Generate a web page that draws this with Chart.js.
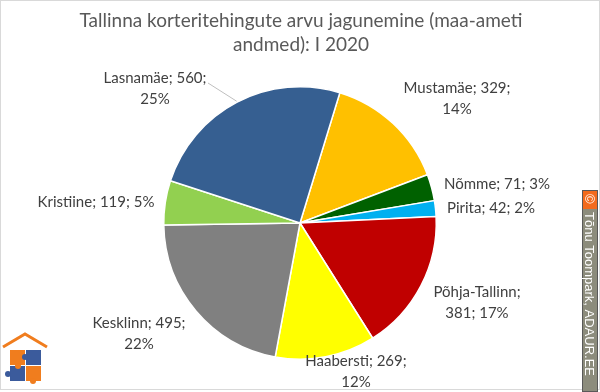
<!DOCTYPE html>
<html lang="et">
<head>
<meta charset="UTF-8">
<title>Tallinna korteritehingud I 2020</title>
<script src="https://cdn.jsdelivr.net/npm/chart.js"></script>
<style>
  html, body { margin: 0; padding: 0; background: #fff; }
  #wrap { position: relative; width: 600px; height: 392px; }
  canvas { display: block; }
</style>
</head>
<body>
<div id="wrap"><canvas id="pie" width="600" height="392"></canvas></div>
<script>
// andmed
const districts = ['Mustamäe', 'Nõmme', 'Pirita', 'Põhja-Tallinn', 'Haabersti', 'Kesklinn', 'Kristiine', 'Lasnamäe'];
const deals = [329, 71, 42, 381, 269, 495, 119, 560];
const shares = ['14%', '3%', '2%', '17%', '12%', '22%', '5%', '25%'];
const sliceColors = ['#FFC000', '#006100', '#00B0F0', '#C00000', '#FFFF00', '#808080', '#92D050', '#365F91'];

// sildi read ja asukohad (keskpunkt), nagu Excelis
const labelLines = [
  ['Mustamäe; 329;', '14%'],
  ['Nõmme; 71; 3%'],
  ['Pirita; 42; 2%'],
  ['Põhja-Tallinn;', '381; 17%'],
  ['Haabersti; 269;', '12%'],
  ['Kesklinn; 495;', '22%'],
  ['Kristiine; 119; 5%'],
  ['Lasnamäe; 560;', '25%']
];
const labelAt = [[457, 88], [497, 184], [491, 208], [477, 292], [356, 361], [139, 323], [96, 202], [155, 78]];

const labelFont = '15px Lato, "Open Sans", sans-serif';

const pieLabels = {
  id: 'pieLabels',
  afterDraw(chart) {
    const c = chart.ctx;
    const arcs = chart.getDatasetMeta(0).data;
    c.save();
    // juhtjoon Lasnamäe sildini
    const a = arcs[7];
    const mid = (a.startAngle + a.endAngle) / 2;
    c.strokeStyle = '#bfbfbf';
    c.lineWidth = 1;
    c.beginPath();
    c.moveTo(208, 83);
    c.lineTo(a.x + Math.cos(mid) * (a.outerRadius + 1), a.y + Math.sin(mid) * (a.outerRadius + 1));
    c.stroke();

    c.font = labelFont;
    c.fillStyle = '#404040';
    c.textAlign = 'center';
    c.textBaseline = 'middle';
    labelLines.forEach((lines, i) => {
      const [x, y] = labelAt[i];
      lines.forEach((t, j) => c.fillText(t, x, y + j * 21));
    });

    // pealkiri
    c.font = '19px Lato, "Open Sans", sans-serif';
    c.fillStyle = '#595959';
    c.fillText('Tallinna korteritehingute arvu jagunemine (maa-ameti', 301, 21);
    c.fillText('andmed): I 2020', 301, 45);

    // raam
    c.strokeStyle = '#d9d9d9';
    c.strokeRect(0.5, 0.5, 599, 389);

    // autori märk paremal
    c.fillStyle = '#8c8c7c';
    c.fillRect(582, 190, 16, 202);
    c.strokeStyle = '#595959';
    c.strokeRect(582.5, 190.5, 15, 201);
    c.fillStyle = '#f26b1d';
    c.fillRect(583, 191, 14, 18);
    c.translate(590, 200);
    c.rotate(Math.PI / 2);
    c.fillStyle = '#ffffff';
    c.font = '13px "Liberation Sans", Arial, sans-serif';
    c.textAlign = 'left';
    c.fillText('©', -6, 1);
    c.fillText('Tõnu Toompark, ADAUR.EE', 12, 1);
    c.restore();

    // logo all vasakul
    c.save();
    c.strokeStyle = '#f07d1e';
    c.lineWidth = 3;
    c.beginPath();
    c.moveTo(3, 347); c.lineTo(25, 334); c.lineTo(47, 347);
    c.stroke();
    const sq = [[10, 350, '#f07d1e'], [26, 350, '#3b5b9c'], [10, 366, '#3b5b9c'], [26, 366, '#f07d1e']];
    sq.forEach(([x, y, col]) => { c.fillStyle = col; c.fillRect(x, y, 15, 15); });
    c.fillStyle = '#3b5b9c';
    c.beginPath(); c.arc(25, 357, 3, 0, Math.PI * 2); c.fill();
    c.fillStyle = '#f07d1e';
    c.beginPath(); c.arc(18, 366, 3, 0, Math.PI * 2); c.fill();
    c.beginPath(); c.arc(33, 381, 3, 0, Math.PI * 2); c.fill();
    c.fillStyle = '#3b5b9c';
    c.beginPath(); c.arc(8, 374, 3, 0, Math.PI * 2); c.fill();
    c.restore();
  }
};

new Chart(document.getElementById('pie'), {
  type: 'pie',
  data: {
    labels: districts,
    datasets: [{
      data: deals,
      backgroundColor: sliceColors,
      borderColor: '#ffffff',
      borderWidth: 1.5
    }]
  },
  options: {
    responsive: false,
    animation: false,
    rotation: 17,
    layout: { padding: { top: 86, bottom: 32, left: 163, right: 163 } },
    plugins: {
      legend: { display: false },
      tooltip: { enabled: false },
      title: { display: false }
    }
  },
  plugins: [pieLabels]
});
</script>
</body>
</html>
